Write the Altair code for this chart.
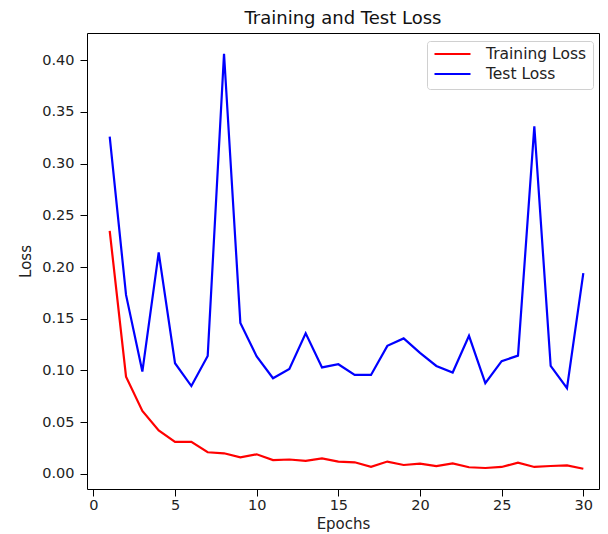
import altair as alt
import pandas as pd

epochs = list(range(1, 31))
train_loss = [0.235, 0.094, 0.061, 0.042, 0.031, 0.031, 0.021, 0.020, 0.016, 0.019,
              0.0135, 0.014, 0.0126, 0.015, 0.012, 0.0113, 0.007, 0.012, 0.0087, 0.010,
              0.0077, 0.0103, 0.0065, 0.0058, 0.0068, 0.011, 0.0068, 0.0077, 0.0084, 0.0051]
test_loss = [0.326, 0.173, 0.099, 0.214, 0.107, 0.085, 0.114, 0.406, 0.146, 0.1135,
             0.0925, 0.1015, 0.136, 0.103, 0.106, 0.0957, 0.0957, 0.1238, 0.131, 0.117,
             0.1044, 0.098, 0.1335, 0.0877, 0.109, 0.1144, 0.336, 0.1044, 0.083, 0.194]
series = ["Training Loss", "Test Loss"]
colors = ["#ff0000", "#0000ff"]
x_ticks = [0, 5, 10, 15, 20, 25, 30]
y_ticks = [0.0, 0.05, 0.10, 0.15, 0.20, 0.25, 0.30, 0.35, 0.40]

rows = []
for e, v in zip(epochs, train_loss):
    rows.append({"Epoch": e, "Loss": v, "Series": series[0]})
for e, v in zip(epochs, test_loss):
    rows.append({"Epoch": e, "Loss": v, "Series": series[1]})
df = pd.DataFrame(rows)

FONT = "DejaVu Sans"

chart = alt.Chart(df).mark_line(strokeWidth=2.2).encode(
    x=alt.X("Epoch:Q", title="Epochs",
            scale=alt.Scale(domain=[-0.39, 30.96], nice=False, zero=False),
            axis=alt.Axis(values=x_ticks, format="d", grid=False, domain=False,
                          tickColor="black", tickSize=7, labelPadding=2,
                          labelFont=FONT, labelFontSize=14.5, labelColor="#222",
                          titleFont=FONT, titleFontSize=15, titleFontWeight="normal",
                          titleColor="#222", titlePadding=5)),
    y=alt.Y("Loss:Q", title="Loss",
            scale=alt.Scale(domain=[-0.0145, 0.4261], nice=False, zero=False),
            axis=alt.Axis(values=y_ticks, format=".2f", grid=False, domain=False,
                          tickColor="black", tickSize=7, labelPadding=6,
                          labelFont=FONT, labelFontSize=14.5, labelColor="#222",
                          titleFont=FONT, titleFontSize=15, titleFontWeight="normal",
                          titleColor="#222", titlePadding=8)),
    color=alt.Color("Series:N",
                    scale=alt.Scale(domain=series, range=colors),
                    sort=series,
                    legend=alt.Legend(title=None, orient="none", legendX=340, legendY=8,
                                      symbolType="stroke", symbolSize=1296,
                                      symbolStrokeWidth=2.2, labelFont=FONT,
                                      labelFontSize=15.5, labelColor="#222",
                                      labelOffset=14, clipHeight=14, rowPadding=4,
                                      padding=6, strokeColor="#d0d0d0", fillColor="white",
                                      cornerRadius=3)),
).properties(
    width=512,
    height=456,
    title=alt.TitleParams("Training and Test Loss", font=FONT, fontSize=18,
                          fontWeight="normal", color="#111", anchor="middle", offset=5),
    autosize=alt.AutoSizeParams(type="none"),
    padding={"left": 79, "top": 25, "right": 1, "bottom": 44},
).configure_view(
    stroke="black", strokeWidth=1
)

chart.save("out.html", embed_options={"renderer": "svg", "actions": False})
